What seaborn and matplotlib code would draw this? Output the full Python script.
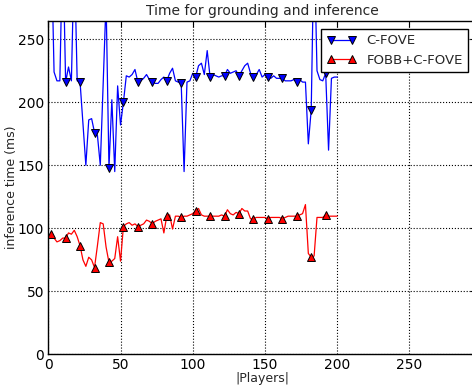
import numpy as np
import pandas as pd
import matplotlib
matplotlib.use('Agg')
import matplotlib.pyplot as plt
import seaborn as sns

# number of players (x axis), one point every 2 players
players = list(range(2, 202, 2))

# C-FOVE inference time (ms)
cfove = [330, 224, 217, 217, 330, 216, 228, 217, 320, 217,
         216, 183, 150, 186, 187, 176, 174, 150, 215, 281,
         148, 202, 145, 213, 182, 200, 221, 220, 222, 226,
         216, 217, 219, 222, 218, 216, 215, 215, 218, 220,
         217, 223, 227, 217, 216, 215, 145, 216, 217, 223,
         220, 229, 231, 222, 241, 220, 222, 221, 220, 221,
         221, 226, 223, 224, 225, 221, 225, 229, 231, 223,
         220, 222, 226, 220, 222, 220, 219, 221, 219, 219,
         219, 217, 217, 217, 218, 216, 218, 216, 216, 167,
         194, 330, 225, 218, 217, 223, 162, 219, 220, 220]

# FOBB+C-FOVE inference time (ms)
fobb = [95.3, 92.2, 89.2, 90.2, 92.2, 92.2, 96.3, 95.3, 98.4, 93.3,
        86.1, 74.9, 69.8, 77.0, 74.9, 68.8, 86.1, 104.5, 103.5, 85.1,
        72.9, 73.9, 76.0, 93.3, 73.9, 101.4, 103.5, 104.5, 102.4, 103.5,
        101.4, 102.4, 103.5, 106.5, 105.5, 103.5, 105.5, 106.5, 107.5, 96.3,
        109.6, 110.6, 99.4, 109.6, 109.6, 108.6, 109.6, 109.6, 110.6, 111.6,
        113.7, 115.7, 110.6, 109.6, 109.6, 109.6, 109.6, 109.6, 109.6, 110.6,
        109.6, 114.7, 111.6, 110.6, 112.6, 111.6, 115.7, 113.7, 113.7, 107.5,
        107.5, 108.6, 108.6, 108.6, 108.6, 107.5, 108.6, 108.6, 108.6, 108.6,
        107.5, 108.6, 109.6, 109.6, 109.6, 109.6, 110.6, 111.6, 118.8, 80.0,
        77.0, 78.0, 108.6, 108.6, 108.6, 110.6, 109.6, 109.6, 109.6, 109.6]

xticks = [0, 50, 100, 150, 200, 250]
yticks = [0, 50, 100, 150, 200, 250]

sns.set_style('white')
plt.rcParams['font.family'] = ['DejaVu Sans']

fig = plt.figure(figsize=(4.72, 3.88), dpi=100)
ax = fig.add_axes([0.1023, 0.0869, 0.906, 0.859])

df = pd.DataFrame({'players': players, 'cfove': cfove, 'fobb': fobb})

sns.lineplot(data=df, x='players', y='cfove', ax=ax, color='b', lw=0.9,
             marker='v', markersize=5.5, markevery=5, markeredgecolor='k',
             markeredgewidth=0.7, label='C-FOVE')
sns.lineplot(data=df, x='players', y='fobb', ax=ax, color='r', lw=0.9,
             marker='^', markersize=5.5, markevery=5, markeredgecolor='k',
             markeredgewidth=0.7, label='FOBB+C-FOVE')

ax.set_xlim(0, 296)
ax.set_ylim(0, 264.5)
ax.set_xticks(xticks)
ax.set_yticks(yticks)
ax.grid(True, linestyle=':', color='k', linewidth=0.8)
ax.tick_params(direction='in', top=True, right=True, length=4, width=0.8,
               labelsize=10, colors='k', pad=3)
for s in ax.spines.values():
    s.set_color('k')
    s.set_linewidth(1)

ax.set_xlabel('|Players|', fontsize=9, labelpad=0)
ax.set_ylabel('inference time (ms)', fontsize=9, labelpad=0)
ax.set_title('Time for grounding and inference', fontsize=10, pad=4)
ax.legend(loc='upper right', numpoints=2, fontsize=9.5, fancybox=False,
          edgecolor='k', framealpha=1, handlelength=2.2,
          borderaxespad=0.6)

fig.savefig('out.png', dpi=100)
